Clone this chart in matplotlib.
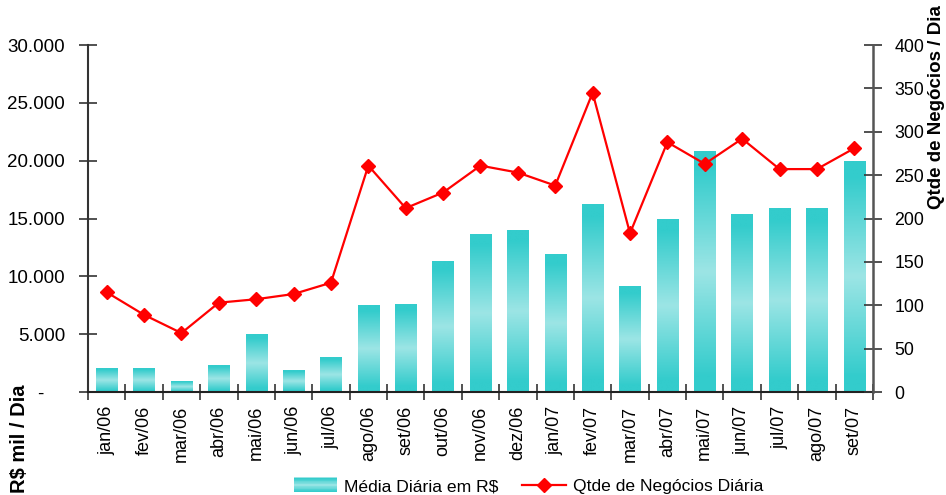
import numpy as np
import matplotlib
matplotlib.use("Agg")
import matplotlib.pyplot as plt
from matplotlib.colors import LinearSegmentedColormap
from matplotlib.patches import Rectangle
from matplotlib.legend_handler import HandlerBase
from matplotlib.lines import Line2D

plt.rcParams['font.family'] = ['Liberation Sans', 'DejaVu Sans']

categories = ['jan/06', 'fev/06', 'mar/06', 'abr/06', 'mai/06', 'jun/06', 'jul/06',
              'ago/06', 'set/06', 'out/06', 'nov/06', 'dez/06', 'jan/07', 'fev/07',
              'mar/07', 'abr/07', 'mai/07', 'jun/07', 'jul/07', 'ago/07', 'set/07']
media_diaria = [2000, 2000, 950, 2300, 4950, 1900, 3000, 7450, 7600, 11250, 13600,
                13950, 11900, 16200, 9100, 14900, 20750, 15350, 15900, 15900, 19900]
qtde_negocios = [115, 89, 68, 103, 107, 113, 126, 261, 212, 230, 261,
                 253, 238, 345, 183, 288, 263, 292, 257, 257, 281]
left_ticks = [0, 5000, 10000, 15000, 20000, 25000, 30000]
right_ticks = [0, 50, 100, 150, 200, 250, 300, 350, 400]

DARK = '#33CCCC'
LIGHT = '#9CE5E5'
cmap = LinearSegmentedColormap.from_list('tealgrad', [LIGHT, DARK])

fig = plt.figure(figsize=(9.46, 4.95), dpi=100)
ax = fig.add_axes([0.093, 0.208, 0.8298, 0.701])
ax2 = ax.twinx()

n = len(categories)
x = np.arange(n)
bar_w = 0.57
bars = ax.bar(x, media_diaria, width=bar_w, color='none', edgecolor='none', zorder=2)
grad = np.abs(np.linspace(-1, 1, 256))[:, None]
grad = np.clip(grad * 1.15, 0, 1)
for b in bars:
    x0, y0 = b.get_x(), b.get_y()
    w, h = b.get_width(), b.get_height()
    ax.imshow(grad, cmap=cmap, vmin=0, vmax=1, aspect='auto',
              extent=[x0, x0 + w, y0, y0 + h], zorder=2, interpolation='bilinear')

ax.set_xlim(-0.5, n - 0.5)
ax.set_ylim(0, 30000)
ax2.set_ylim(0, 400)

ax2.plot(x, qtde_negocios, color='#FF0000', lw=1.6, marker='D', markersize=7.5,
         markerfacecolor='#FF0000', markeredgecolor='#FF0000', zorder=5)

def fmt_left(v):
    if v == 0:
        return '-    '
    return f'{int(v):,}'.replace(',', '.')

ax.set_yticks(left_ticks)
ax.set_yticklabels([fmt_left(v) for v in left_ticks])
ax2.set_yticks(right_ticks)
ax2.set_yticklabels([str(v) for v in right_ticks])

ax.set_xticks(x)
ax.set_xticklabels(categories, rotation=90, va='top', ha='center')
ax.set_xticks(np.arange(-0.5, n, 1.0), minor=True)
ax.tick_params(axis='x', which='major', length=0, pad=10, labelsize=13)
ax.tick_params(axis='x', which='minor', direction='inout', length=12, width=1.3, color='#444444')

ax.tick_params(axis='y', direction='inout', length=13, width=1.2, color='#333333',
               labelsize=13.5, pad=10)
ax2.tick_params(axis='y', direction='inout', length=13, width=1.2, color='#333333',
                labelsize=12.8, pad=9)

for a in (ax, ax2):
    a.spines['top'].set_visible(False)
ax.spines['right'].set_visible(False)
ax2.spines['left'].set_visible(False)
ax2.spines['bottom'].set_visible(False)
ax.spines['left'].set_color('#333333')
ax.spines['left'].set_linewidth(1.5)
ax.spines['bottom'].set_color('#222222')
ax.spines['bottom'].set_linewidth(1.5)
ax2.spines['right'].set_color('#555555')
ax2.spines['right'].set_linewidth(1.8)

fig.text(0.021, 0.005, 'R$ mil / Dia', rotation=90, fontsize=14.5, fontweight='bold',
         ha='center', va='bottom')
fig.text(0.9895, 0.99, 'Qtde de Negócios / Dia', rotation=90, fontsize=13.5,
         fontweight='bold', ha='center', va='top')


class HandlerGradient(HandlerBase):
    def create_artists(self, legend, orig_handle, xdescent, ydescent, width, height,
                       fontsize, trans):
        arts = []
        steps = 20
        y0 = -ydescent - height * 0.1
        hh = height * 1.2
        for i in range(steps):
            t = abs((i + 0.5) / steps * 2 - 1)
            col = cmap(min(t * 1.15, 1))
            r = Rectangle((-xdescent, y0 + hh * i / steps), width, hh / steps + 0.1,
                          facecolor=col, edgecolor='none', transform=trans)
            arts.append(r)
        return arts


bar_handle = Rectangle((0, 0), 1, 1)
line_handle = Line2D([], [], color='#FF0000', lw=1.6, marker='D', markersize=7.5)
fig.legend([bar_handle, line_handle],
           ['Média Diária em R$', 'Qtde de Negócios Diária'],
           handler_map={Rectangle: HandlerGradient()},
           loc='lower center', bbox_to_anchor=(0.5587, -0.03), ncol=2, frameon=False,
           fontsize=12.6, handlelength=2.5, handletextpad=0.4, columnspacing=1.35,
           numpoints=1)

fig.savefig('out.png', dpi=100)
